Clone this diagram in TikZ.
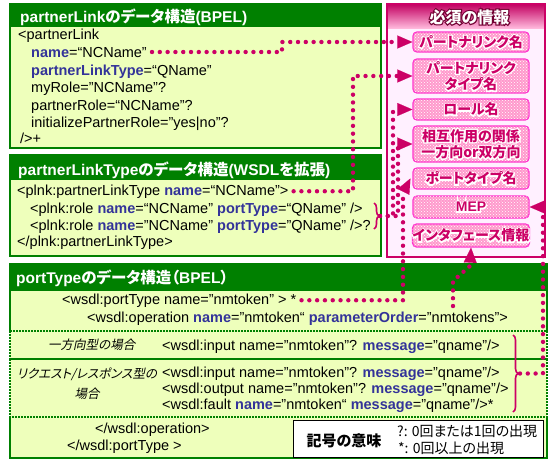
\documentclass[tikz,border=0pt]{standalone}
\usepackage{fontspec}
\setmainfont{Liberation Sans}
\newfontfamily\jp[RawFeature=+palt]{Noto Sans CJK JP}
\newfontfamily\jpit[RawFeature=+palt,FakeSlant=0.2]{Noto Sans CJK JP}
\usetikzlibrary{arrows.meta,patterns,decorations.pathreplacing}
\definecolor{gdark}{HTML}{008000}
\definecolor{gbody}{HTML}{EEFFBB}
\definecolor{attblue}{HTML}{333399}
\definecolor{mag}{HTML}{CC0066}
\definecolor{pnlbg}{HTML}{FFF0FF}
\definecolor{pkfill}{HTML}{FF99CC}
\definecolor{pkborder}{HTML}{FF33CC}
\definecolor{pktext}{HTML}{CC0066}
\newcommand\att[1]{\textcolor{attblue}{\textbf{#1}}}
% text with a white halo behind it
\newcommand\halo[2]{\leavevmode\rlap{\special{pdf:literal direct 1 Tr 2.4 w 1 1 1 RG 1 1 1 rg}#2\special{pdf:literal direct 0 Tr}}{\color{#1}#2}}
\newcommand\outl[1]{\leavevmode\rlap{\special{pdf:literal direct 1 Tr 2.2 w 0.45 0 0.2 RG 0.45 0 0.2 rg}#1\special{pdf:literal direct 0 Tr}}{\color{white}#1}}
\begin{document}
\begin{tikzpicture}[x=1pt,y=-1pt,
  txt/.style={anchor=base west, inner sep=0pt, font=\fontsize{14.5}{17}\selectfont},
  ttl/.style={anchor=base west, inner sep=0pt, text=white, font=\fontsize{15.5}{18}\selectfont\bfseries},
  gline/.style={draw=gdark, line width=1.5pt},
  gdot/.style={draw=gdark, line width=2pt, dash pattern=on 1.6pt off 1.4pt},
  pk/.style={draw=pkborder, line width=1.3pt, rounded corners=4pt, fill=pkfill,
     postaction={pattern=crosshatch dots, pattern color=white},
     minimum width=116pt, text=pktext, font=\jp\bfseries\fontsize{14}{16.5}\selectfont,
     align=center, inner sep=0pt},
  conn/.style={draw=mag, line width=4.4pt, line cap=round, dash pattern=on 0pt off 7.8pt},
  arr/.style={-{Triangle[length=15pt,width=13pt,line width=0.1pt]}},
  brc/.style={draw=mag, line width=1.6pt, decorate, decoration={brace, amplitude=5pt}},
  lbl/.style={inner sep=0pt, font=\jpit\fontsize{12.5}{20}\selectfont, align=center}
]
\useasboundingbox (0,0) rectangle (548,459);

% ---------- Box 1 ----------
\fill[gbody] (10,27) rectangle (381,148);
\fill[gdark] (10,4) rectangle (381,27);
\draw[gline] (10,4) rectangle (381,148);
\node[ttl] (t1) at (20,22.5) {partnerLink{\jp のデータ構造}(BPEL)};
\node[txt] (a1) at (18,39) {<partnerLink};
\node[txt] (a2) at (31,57) {\att{name}=“NCName”};
\node[txt] (a3) at (31,75) {\att{partnerLinkType}=“QName”};
\node[txt] (a4) at (31,92) {myRole="NCName"?};
\node[txt] (a5) at (31,110) {partnerRole=“NCName”?};
\node[txt] (a6) at (31,127) {initializePartnerRole="yes|no"?};
\node[txt] (a7) at (20,143) {/>+};

% ---------- Box 2 ----------
\fill[gbody] (10,180) rectangle (381,256);
\fill[gdark] (10,155) rectangle (381,180);
\draw[gline] (10,155) rectangle (381,256);
\node[ttl] (t2) at (18,175.5) {partnerLinkType{\jp のデータ構造}(WSDL{\jp を拡張})};
\node[txt] (b1) at (17,195) {<plnk:partnerLinkType \att{name}=“NCName”>};
\node[txt] (b2) at (30,213) {<plnk:role \att{name}=“NCName” \att{portType}=“QName” />};
\node[txt] (b3) at (30,230) {<plnk:role \att{name}="NCName" \att{portType}="QName" />?};
\node[txt] (b4) at (17,246) {</plnk:partnerLinkType>};
\draw[brc] (374,203) -- (374,229);
\coordinate (br2) at (380,216);

% ---------- Panel ----------
\fill[pnlbg] (387,4) rectangle (545,257);
\shade[top color=mag!95!black, bottom color=pkfill!70!white] (387,4) rectangle (545,28);
\draw[draw=mag, line width=1.5pt] (387,4) rectangle (545,257);
\node[inner sep=0pt, font=\jp\bfseries\fontsize{16}{18}\selectfont] (ph) at (469.5,17) {\outl{必須の情報}};
\node[pk, minimum height=20pt] (pk1) at (471,42) {\halo{pktext}{パートナリンク名}};
\node[pk, minimum height=34pt] (pk2) at (471,76) {\halo{pktext}{パートナリンク}\\\halo{pktext}{タイプ名}};
\node[pk, minimum height=21pt] (pk3) at (471,109.5) {\halo{pktext}{ロール名}};
\node[pk, minimum height=36pt] (pk4) at (471,144) {\halo{pktext}{相互作用の関係}\\\halo{pktext}{一方向or双方向}};
\node[pk, minimum height=21pt] (pk5) at (471,178.5) {\halo{pktext}{ポートタイプ名}};
\node[pk, minimum height=22pt, font=\bfseries\fontsize{14}{16.5}\selectfont] (pk6) at (471,207) {\halo{pktext}{MEP}};
\node[pk, minimum height=23pt] (pk7) at (471,235.5) {\halo{pktext}{インタフェース情報}};

% ---------- Box 3 ----------
\fill[gbody] (10,291) rectangle (547,458);
\fill[gdark] (10,264) rectangle (547,291);
\draw[gline] (10,331) -- (10,264) -- (547,264) -- (547,331);
\draw[gline] (10,417) -- (10,458) -- (547,458) -- (547,417);
\draw[gdot] (10,331) rectangle (547,359);
\draw[gdot] (10,359) rectangle (547,417);
\node[ttl] (t3) at (16,283.5) {portType{\jp のデータ構造（}BPEL{\jp ）}};
\node[txt] (c1) at (62,304) {<wsdl:portType name="nmtoken" > *};
\node[txt] (c2) at (87,322) {<wsdl:operation \att{name}="nmtoken“ \att{parameterOrder}="nmtokens">};
\node[lbl, anchor=west] (l1) at (48,345) {一方向型の場合};
\node[txt] (c3) at (162,350) {<wsdl:input name="nmtoken"? \att{message}="qname"/>};
\node[lbl] (l2) at (87,384) {リクエスト/レスポンス型の\\場合};
\node[txt] (c4) at (162,377) {<wsdl:input name="nmtoken"? \att{message}="qname"/>};
\node[txt] (c5) at (162,393) {<wsdl:output name="nmtoken"? \att{message}="qname"/>};
\node[txt] (c6) at (162,409) {<wsdl:fault \att{name}="nmtoken“ \att{message}="qname"/>*};
\node[txt] (c7) at (95,433) {</wsdl:operation>};
\node[txt] (c8) at (67,450) {</wsdl:portType >};
\draw[brc] (513,335) -- (513,412);
\coordinate (br3) at (520,373.5);

% legend
\node[draw=black, fill=white, line width=0.8pt, minimum width=250pt, minimum height=37pt, inner sep=0pt] (leg) at (418,438.5) {};
\node[inner sep=0pt, font=\jp\bfseries\fontsize{15}{18}\selectfont] (lg1) at (344,441) {記号の意味};
\node[inner sep=0pt, anchor=west, font=\jp\fontsize{14}{16}\selectfont] (lg2) at (397,431) {?: 0回または1回の出現};
\node[inner sep=0pt, anchor=west, font=\jp\fontsize{14}{16}\selectfont] (lg3) at (398,448) {*: 0回以上の出現};

% ---------- Connectors ----------
\coordinate (k5) at (453,306);
\draw[conn, arr] ([xshift=5pt]a2.east) -| (282,42) -- (pk1.west);
\draw[conn, arr] ([xshift=5pt]b1.east) -| (353,76) -- (pk2.west);
\draw[conn, arr] (br2) -| (393,109.5) -- (pk3.west);
\draw[conn, arr] (br2) -| (398,144) -- (pk4.west);
\draw[conn, arr] ([xshift=5pt]c1.east) -| (403,193) -- ([xshift=-2pt]pk5.west);
\draw[conn, arr] (k5) -- (453,281) -- (470,266) -- (pk7.south);
\draw[conn, arr] (br3) -| (543,207) -- (pk6.east);
\end{tikzpicture}
\end{document}
